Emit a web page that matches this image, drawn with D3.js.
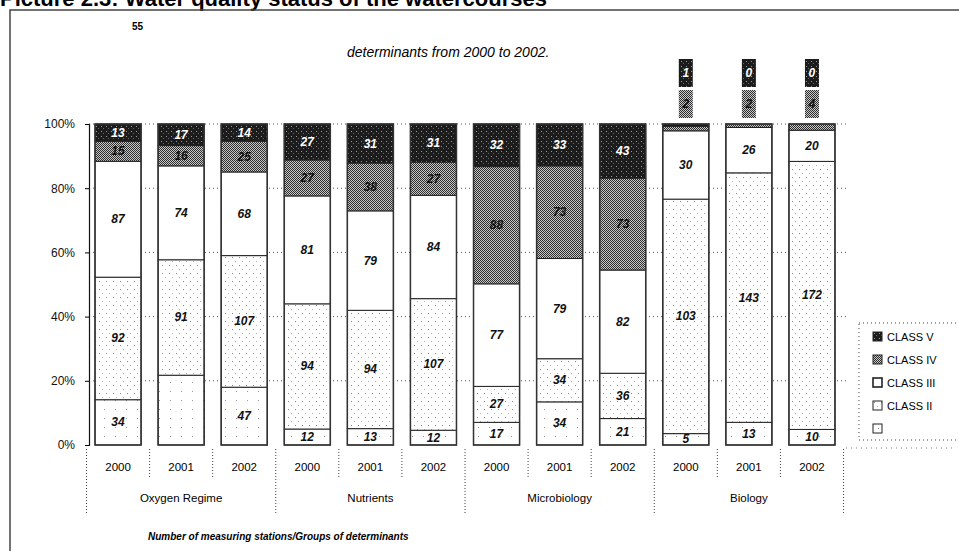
<!DOCTYPE html>
<html>
<head>
<meta charset="utf-8">
<script src="https://cdn.jsdelivr.net/npm/d3@7"></script>
<style>
  body { margin: 0; background: #fff; }
  svg { display: block; font-family: Arial, "Liberation Sans", sans-serif; }
</style>
</head>
<body>
<div id="chart"></div>
<script>
// Data (stations per class, bottom to top)
const groups = ["Oxygen Regime", "Nutrients", "Microbiology", "Biology"];
const years = ["2000", "2001", "2002"];
const classI   = [34, 55, 47, 12, 13, 12, 17, 34, 21, 5, 13, 10];
const classII  = [92, 91, 107, 94, 94, 107, 27, 34, 36, 103, 143, 172];
const classIII = [87, 74, 68, 81, 79, 84, 77, 79, 82, 30, 26, 20];
const classIV  = [15, 16, 25, 27, 38, 27, 88, 73, 73, 2, 2, 4];
const classV   = [13, 17, 14, 27, 31, 31, 32, 33, 43, 1, 0, 0];
const legendLabels = ["CLASS V", "CLASS IV", "CLASS III", "CLASS II", ""];
const yTicks = [0, 0.2, 0.4, 0.6, 0.8, 1];

const width = 959, height = 551;
const keys = ["c1", "c2", "c3", "c4", "c5"];
const fills = { c1: "url(#pI)", c2: "url(#pII)", c3: "#fff", c4: "url(#pIV)", c5: "url(#pV)" };

const rows = classI.map((v, i) => ({
    i: i, c1: v, c2: classII[i], c3: classIII[i], c4: classIV[i], c5: classV[i]
}));

const svg = d3.select("#chart").append("svg")
    .attr("width", width)
    .attr("height", height);

// Patterns to imitate the scanned fills
const defs = svg.append("defs");
const pV = defs.append("pattern").attr("id", "pV").attr("width", 5).attr("height", 5).attr("patternUnits", "userSpaceOnUse");
pV.append("rect").attr("width", 5).attr("height", 5).attr("fill", "#1c1c1c");
pV.append("rect").attr("x", 1).attr("y", 1).attr("width", 1).attr("height", 1).attr("fill", "#9a9a9a");
pV.append("rect").attr("x", 3).attr("y", 3).attr("width", 1).attr("height", 1).attr("fill", "#666");

const pIV = defs.append("pattern").attr("id", "pIV").attr("width", 2).attr("height", 2).attr("patternUnits", "userSpaceOnUse");
pIV.append("rect").attr("width", 2).attr("height", 2).attr("fill", "#c8c8c8");
pIV.append("rect").attr("width", 1).attr("height", 1).attr("fill", "#2e2e2e");
pIV.append("rect").attr("x", 1).attr("y", 1).attr("width", 1).attr("height", 1).attr("fill", "#2e2e2e");

const pII = defs.append("pattern").attr("id", "pII").attr("width", 7).attr("height", 8).attr("patternUnits", "userSpaceOnUse");
pII.append("rect").attr("width", 7).attr("height", 8).attr("fill", "#fff");
pII.append("rect").attr("x", 1).attr("y", 1).attr("width", 1).attr("height", 1).attr("fill", "#8a8a8a");
pII.append("rect").attr("x", 4).attr("y", 5).attr("width", 1).attr("height", 1).attr("fill", "#b0b0b0");

const pI = defs.append("pattern").attr("id", "pI").attr("width", 11).attr("height", 9).attr("patternUnits", "userSpaceOnUse");
pI.append("rect").attr("width", 11).attr("height", 9).attr("fill", "#fff");
pI.append("rect").attr("x", 5).attr("y", 4).attr("width", 1).attr("height", 1).attr("fill", "#999");

// Page header (cut off by the scan) and frame
svg.append("text")
    .attr("x", 0).attr("y", 6)
    .attr("font-size", 22).attr("font-weight", "bold")
    .text("Picture 2.3: Water quality status of the watercourses");

svg.append("path")
    .attr("d", `M10,${height}V10H${width}`)
    .attr("fill", "none")
    .attr("stroke", "#444")
    .attr("stroke-width", 1.5);

// Scales
const x = d3.scaleBand()
    .domain(d3.range(rows.length))
    .range([86.5, 843.5])
    .paddingInner(0.27)
    .paddingOuter(0.135);

const y = d3.scaleLinear().domain([0, 1]).range([445, 124]);

const series = d3.stack().keys(keys).offset(d3.stackOffsetExpand)(rows);

// Grid lines
svg.append("g")
    .selectAll("line")
    .data(yTicks.filter(t => t > 0))
    .join("line")
    .attr("x1", 89).attr("x2", 846)
    .attr("y1", d => y(d)).attr("y2", d => y(d))
    .attr("stroke", "#555")
    .attr("stroke-dasharray", "1,3");

svg.append("line")
    .attr("x1", 846).attr("x2", 955)
    .attr("y1", y(0) + 3).attr("y2", y(0) + 3)
    .attr("stroke", "#777")
    .attr("stroke-dasharray", "1,4");

// Separators under the bars
const step = x.step();
svg.append("g")
    .selectAll("line")
    .data(d3.range(rows.length + 1))
    .join("line")
    .attr("x1", k => 86.5 + k * step)
    .attr("x2", k => 86.5 + k * step)
    .attr("y1", 449)
    .attr("y2", k => k % 3 === 0 ? 513 : 477)
    .attr("stroke", "#444")
    .attr("stroke-dasharray", "1,2");

// Bars
svg.append("g")
    .selectAll("g")
    .data(series)
    .join("g")
    .attr("fill", d => fills[d.key])
    .selectAll("rect")
    .data(d => d)
    .join("rect")
    .attr("x", (d, i) => x(i))
    .attr("y", d => y(d[1]))
    .attr("width", x.bandwidth())
    .attr("height", d => y(d[0]) - y(d[1]))
    .attr("stroke", "#222")
    .attr("stroke-width", 1);

svg.append("g")
    .selectAll("rect")
    .data(rows)
    .join("rect")
    .attr("x", d => x(d.i))
    .attr("y", y(1))
    .attr("width", x.bandwidth())
    .attr("height", y(0) - y(1))
    .attr("fill", "none")
    .attr("stroke", "#333")
    .attr("stroke-width", 1.5);

// Value labels inside the bars
const labels = [];
series.forEach(s => {
    s.forEach((d, i) => {
        if (i >= 9 && (s.key === "c4" || s.key === "c5")) return; // drawn above
        if (i === 1 && s.key === "c1") return; // stray label at the top
        labels.push({ key: s.key, i: i, v: d.data[s.key], y: (y(d[0]) + y(d[1])) / 2 });
    });
});

svg.append("g")
    .selectAll("text")
    .data(labels)
    .join("text")
    .attr("x", d => x(d.i) + x.bandwidth() / 2)
    .attr("y", d => d.y + 4)
    .attr("text-anchor", "middle")
    .attr("font-size", 12)
    .attr("font-weight", "bold")
    .attr("font-style", "italic")
    .attr("fill", d => d.key === "c5" ? "#fff" : "#111")
    .text(d => d.v);

// Small segments of Biology labelled above the bars
const small = rows.filter(d => d.i >= 9);
const boxes = svg.append("g");
[["c5", 59, "url(#pV)", "#fff"], ["c4", 90, "url(#pIV)", "#111"]].forEach(([key, top, fill, tc]) => {
    boxes.selectAll(null)
        .data(small)
        .join("rect")
        .attr("x", d => x(d.i) + x.bandwidth() / 2 - 7)
        .attr("y", top)
        .attr("width", 14)
        .attr("height", 28)
        .attr("fill", fill);
    boxes.selectAll(null)
        .data(small)
        .join("text")
        .attr("x", d => x(d.i) + x.bandwidth() / 2)
        .attr("y", top + 18)
        .attr("text-anchor", "middle")
        .attr("font-size", 12)
        .attr("font-weight", "bold")
        .attr("font-style", "italic")
        .attr("fill", tc)
        .text(d => d[key]);
});

// Stray label of Oxygen Regime 2001, class I
svg.append("text")
    .attr("x", 132).attr("y", 30)
    .attr("font-size", 10).attr("font-weight", "bold")
    .text(classI[1]);

// Y axis
const yAxis = svg.append("g")
    .attr("transform", "translate(89,0)")
    .call(d3.axisLeft(y).tickValues(yTicks).tickFormat(d3.format(".0%")).tickSize(4).tickPadding(10));
yAxis.select(".domain").attr("stroke", "#111").attr("stroke-width", 1.2);
yAxis.selectAll("text").attr("font-size", 12).attr("font-family", "Arial, 'Liberation Sans', sans-serif").attr("fill", "#111");

// Year and group labels
svg.append("g")
    .selectAll("text")
    .data(rows)
    .join("text")
    .attr("x", d => x(d.i) + x.bandwidth() / 2)
    .attr("y", 471)
    .attr("text-anchor", "middle")
    .attr("font-size", 11.5)
    .text(d => years[d.i % 3]);

svg.append("g")
    .selectAll("text")
    .data(groups)
    .join("text")
    .attr("x", (d, g) => 86.5 + (g * 3 + 1.5) * step)
    .attr("y", 502)
    .attr("text-anchor", "middle")
    .attr("font-size", 11.5)
    .text(d => d);

// Titles
svg.append("text")
    .attr("x", 347).attr("y", 57)
    .attr("font-size", 14)
    .attr("font-style", "italic")
    .text("determinants from 2000 to 2002.");

svg.append("text")
    .attr("x", 148).attr("y", 540)
    .attr("font-size", 10)
    .attr("font-weight", "bold")
    .attr("font-style", "italic")
    .text("Number of measuring stations/Groups of determinants");

// Legend
const legend = svg.append("g");
legend.append("rect")
    .attr("x", 859).attr("y", 323)
    .attr("width", 110).attr("height", 117)
    .attr("fill", "none")
    .attr("stroke", "#444")
    .attr("stroke-dasharray", "1,3");

const legendFills = ["url(#pV)", "url(#pIV)", "#fff", "url(#pII)", "url(#pI)"];
const li = legend.selectAll("g")
    .data(legendLabels)
    .join("g")
    .attr("transform", (d, i) => `translate(873,${332 + i * 23})`);
li.append("rect")
    .attr("width", 9).attr("height", 9)
    .attr("fill", (d, i) => legendFills[i])
    .attr("stroke", "#222")
    .attr("stroke-width", (d, i) => i === 2 ? 1.6 : 1);
li.append("text")
    .attr("x", 14).attr("y", 9)
    .attr("font-size", 11)
    .text(d => d);
</script>
</body>
</html>
